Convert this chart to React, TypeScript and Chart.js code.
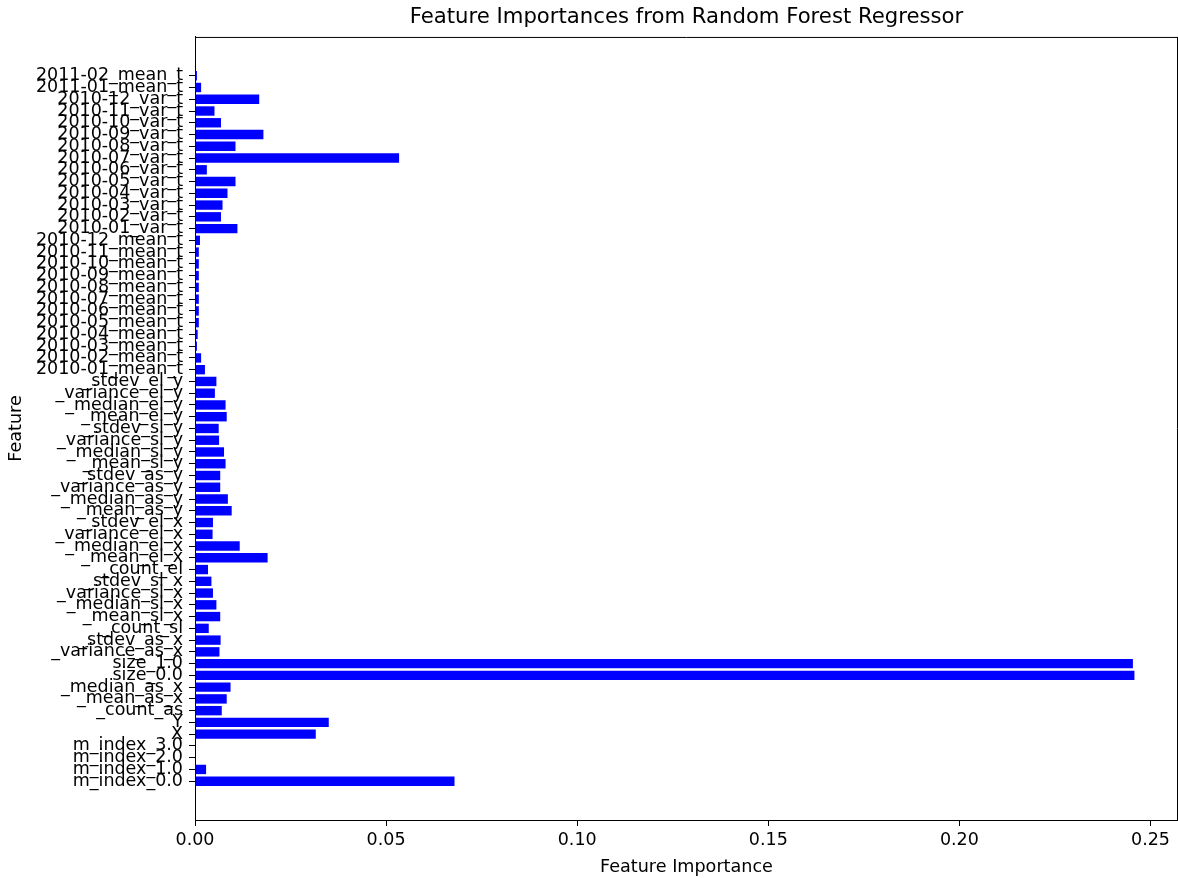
import React, { useEffect, useRef } from "react";
import { Chart, registerables } from "chart.js";

Chart.register(...registerables);

const FEATURES: string[] = [
  "m_index_0.0", "m_index_1.0", "m_index_2.0", "m_index_3.0", "X", "Y",
  "_count_as", "_mean_as_x", "_median_as_x", "size_0.0", "size_1.0",
  "_variance_as_x", "_stdev_as_x", "_count_sl", "_mean_sl_x", "_median_sl_x",
  "_variance_sl_x", "_stdev_sl_x", "_count_el", "_mean_el_x", "_median_el_x",
  "_variance_el_x", "_stdev_el_x", "_mean_as_y", "_median_as_y", "_variance_as_y",
  "_stdev_as_y", "_mean_sl_y", "_median_sl_y", "_variance_sl_y", "_stdev_sl_y",
  "_mean_el_y", "_median_el_y", "_variance_el_y", "_stdev_el_y",
  "2010-01_mean_t", "2010-02_mean_t", "2010-03_mean_t", "2010-04_mean_t",
  "2010-05_mean_t", "2010-06_mean_t", "2010-07_mean_t", "2010-08_mean_t",
  "2010-09_mean_t", "2010-10_mean_t", "2010-11_mean_t", "2010-12_mean_t",
  "2010-01_var_t", "2010-02_var_t", "2010-03_var_t", "2010-04_var_t",
  "2010-05_var_t", "2010-06_var_t", "2010-07_var_t", "2010-08_var_t",
  "2010-09_var_t", "2010-10_var_t", "2010-11_var_t", "2010-12_var_t",
  "2011-01_mean_t", "2011-02_mean_t",
];

const IMPORTANCES: number[] = [
  0.0679, 0.0029, 0.0, 0.0, 0.0316, 0.035,
  0.007, 0.0083, 0.0093, 0.2458, 0.2454,
  0.0064, 0.0067, 0.0036, 0.0066, 0.0056,
  0.0047, 0.0043, 0.0034, 0.019, 0.0117,
  0.0046, 0.0047, 0.0096, 0.0086, 0.0066,
  0.0066, 0.008, 0.0076, 0.0063, 0.0062,
  0.0083, 0.008, 0.0052, 0.0056,
  0.0026, 0.0016, 0.0005, 0.0007,
  0.001, 0.001, 0.001, 0.001,
  0.001, 0.001, 0.001, 0.0013,
  0.0111, 0.0068, 0.0072, 0.0085,
  0.0106, 0.0031, 0.0534, 0.0106,
  0.0179, 0.0068, 0.0051, 0.0168,
  0.0016, 0.0005,
];

const X_TICKS: number[] = [0, 0.05, 0.1, 0.15, 0.2, 0.25];

const FONT = "'DejaVu Sans', sans-serif";

const spinePlugin = {
  id: "spines",
  afterDraw(chart: any) {
    const { ctx, chartArea } = chart;
    ctx.save();
    ctx.strokeStyle = "#000";
    ctx.lineWidth = 1;
    ctx.beginPath();
    ctx.moveTo(chartArea.left, chartArea.top + 0.5);
    ctx.lineTo(chartArea.right, chartArea.top + 0.5);
    ctx.moveTo(chartArea.right - 0.5, chartArea.top);
    ctx.lineTo(chartArea.right - 0.5, chartArea.bottom);
    ctx.stroke();
    ctx.restore();
  },
};

export default function App() {
  const ref = useRef<HTMLCanvasElement | null>(null);

  useEffect(() => {
    if (!ref.current) return;
    const data = IMPORTANCES.map((v, i) => ({ x: v, y: i }));
    const chart = new Chart(ref.current, {
      type: "bar",
      data: {
        datasets: [
          {
            data: data as any,
            backgroundColor: "#0000ff",
            borderWidth: 0,
            barPercentage: 0.8,
            categoryPercentage: 1,
          },
        ],
      },
      plugins: [spinePlugin],
      options: {
        indexAxis: "y",
        responsive: false,
        animation: false,
        layout: { padding: 0 },
        plugins: {
          legend: { display: false },
          tooltip: { enabled: false },
          title: {
            display: true,
            text: "Feature Importances from Random Forest Regressor",
            fullSize: false,
            color: "#000",
            font: { family: FONT, size: 21.2, weight: "normal" as any },
            padding: { top: 5, bottom: 6.5 },
          },
        },
        scales: {
          x: {
            type: "linear",
            position: "bottom",
            min: 0,
            max: 0.2572,
            offset: false,
            afterBuildTicks: (scale: any) => {
              scale.ticks = X_TICKS.map((v) => ({ value: v }));
            },
            afterFit: (scale: any) => {
              scale.height = 58;
            },
            ticks: {
              color: "#000",
              font: { family: FONT, size: 17.5 },
              padding: 4,
              autoSkip: false,
              maxRotation: 0,
              callback: (v: any) => Number(v).toFixed(2),
            },
            grid: {
              display: true,
              drawOnChartArea: false,
              drawTicks: true,
              tickLength: 6,
              offset: false,
              color: "#000",
            },
            border: { display: true, color: "#000", width: 1 },
            title: {
              display: true,
              text: "Feature Importance",
              color: "#000",
              font: { family: FONT, size: 17.6 },
              padding: { top: 0, bottom: 0 },
            },
          },
          y: {
            type: "linear",
            position: "left",
            min: -3.3,
            max: 63.3,
            offset: false,
            afterBuildTicks: (scale: any) => {
              scale.ticks = FEATURES.map((_, i) => ({ value: i }));
            },
            afterFit: (scale: any) => {
              scale.width = 195;
            },
            ticks: {
              color: "#000",
              font: { family: FONT, size: 17.5 },
              padding: 6,
              autoSkip: false,
              callback: (v: any) => FEATURES[Math.round(Number(v))] ?? "",
            },
            grid: {
              display: true,
              drawOnChartArea: false,
              drawTicks: true,
              tickLength: 6,
              offset: false,
              color: "#000",
            },
            border: { display: true, color: "#000", width: 1 },
            title: {
              display: true,
              text: "Feature",
              color: "#000",
              font: { family: FONT, size: 17.6 },
              padding: { top: 6, bottom: 0 },
            },
          },
        },
      },
    });
    return () => chart.destroy();
  }, []);

  return (
    <div style={{ position: "fixed", left: 0, top: 0, width: 1178, height: 878, background: "#fff" }}>
      <canvas ref={ref} width={1178} height={878} style={{ width: 1178, height: 878 }} />
    </div>
  );
}
